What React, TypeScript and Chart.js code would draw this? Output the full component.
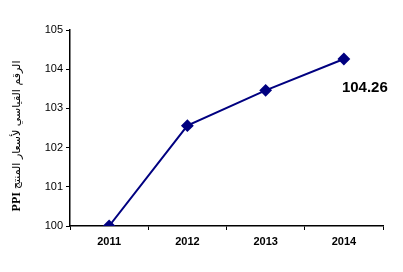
import React, { useEffect, useRef } from "react";
import { Chart, registerables } from "chart.js";

Chart.register(...registerables);

const categories = ["2011", "2012", "2013", "2014"];
const ppiValues = [100, 102.56, 103.46, 104.26];
const labelledIndex = 3;
const labelText = "104.26";
const titleArabic = "الرقم القياسي لأسعار المنتج";
const titleLatin = "PPI";
const yMin = 100;
const yMax = 105;

const NAVY = "#000080";

const annotate = {
  id: "annotate",
  afterDatasetsDraw(chart: any) {
    const ctx = chart.ctx;
    const meta = chart.getDatasetMeta(0);
    const pt = meta.data[labelledIndex];
    ctx.save();
    ctx.fillStyle = "#000";
    ctx.font = "bold 15px 'Liberation Sans', Arial, sans-serif";
    ctx.textAlign = "left";
    ctx.textBaseline = "middle";
    ctx.fillText(labelText, pt.x - 2, pt.y + 29);
    ctx.restore();

    // vertical axis title
    const cy = 136;
    const cx = 17;
    ctx.save();
    ctx.translate(cx, cy);
    ctx.rotate(-Math.PI / 2);
    ctx.fillStyle = "#000";
    ctx.textBaseline = "middle";
    const latinFont = "bold 12px 'Liberation Serif', serif";
    const arFont = "11px 'DejaVu Sans', sans-serif";
    ctx.font = latinFont;
    const wLatin = ctx.measureText(titleLatin).width;
    ctx.font = arFont;
    const wAr = ctx.measureText(titleArabic).width;
    const gap = 3;
    const total = wLatin + gap + wAr;
    const start = -total / 2;
    ctx.font = latinFont;
    ctx.textAlign = "left";
    ctx.fillText(titleLatin, start, 0);
    ctx.font = arFont;
    ctx.direction = "rtl";
    ctx.textAlign = "right";
    ctx.fillText(titleArabic, start + total, 0);
    ctx.restore();
  },
};

export default function App() {
  const ref = useRef<HTMLCanvasElement>(null);
  useEffect(() => {
    document.body.style.margin = "0";
    const chart = new Chart(ref.current!, {
      type: "line",
      data: {
        labels: categories,
        datasets: [
          {
            data: ppiValues,
            borderColor: NAVY,
            backgroundColor: NAVY,
            borderWidth: 2,
            pointStyle: "rectRot",
            pointRadius: 5,
            pointBackgroundColor: NAVY,
            pointBorderColor: NAVY,
            tension: 0,
          },
        ],
      },
      options: {
        animation: false,
        responsive: false,
        maintainAspectRatio: false,
        layout: { padding: { left: 0, right: 20, top: 30, bottom: 0 } },
        plugins: { legend: { display: false }, tooltip: { enabled: false } },
        scales: {
          x: {
            offset: true,
            grid: {
              offset: true,
              drawOnChartArea: false,
              drawTicks: true,
              tickLength: 4,
              color: "#000",
            },
            border: { color: "#000", width: 1.5 },
            ticks: {
              color: "#000",
              font: { family: "'Liberation Sans', Arial, sans-serif", size: 11, weight: "bold" },
              padding: 5,
              maxRotation: 0,
            },
            afterFit(scale: any) {
              scale.height = 46;
            },
          },
          y: {
            min: yMin,
            max: yMax,
            grid: {
              drawOnChartArea: false,
              drawTicks: true,
              tickLength: 4,
              color: "#000",
            },
            border: { color: "#000", width: 1.5 },
            ticks: {
              stepSize: 1,
              color: "#000",
              font: { family: "'Liberation Sans', Arial, sans-serif", size: 11 },
              padding: 3,
            },
            afterFit(scale: any) {
              scale.width = 70;
            },
          },
        },
      },
      plugins: [annotate],
    });
    return () => chart.destroy();
  }, []);
  return (
    <div style={{ position: "fixed", left: 0, top: 0, width: 403, height: 272, background: "#fff" }}>
      <canvas ref={ref} width={403} height={272} style={{ width: 403, height: 272 }} />
    </div>
  );
}
